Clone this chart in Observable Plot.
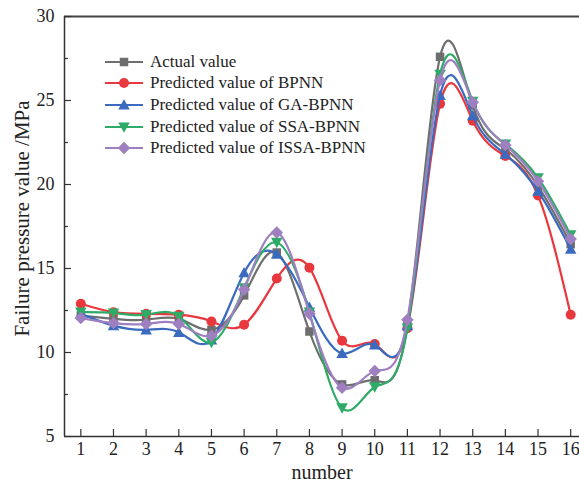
<!DOCTYPE html>
<html>
<head>
<meta charset="utf-8">
<script src="https://cdn.jsdelivr.net/npm/d3@7"></script>
<script src="https://cdn.jsdelivr.net/npm/@observablehq/plot@0.6"></script>
<style>
  html, body { margin: 0; padding: 0; background: #fff; }
  #wrap { position: relative; width: 579px; height: 485px; font-family: "Liberation Serif", "DejaVu Serif", serif; }
  #legend { position: absolute; left: 104px; top: 51px; font-size: 17px; color: #222; }
  .row { display: flex; align-items: center; height: 21.6px; }
  .row svg { margin-right: 4px; }
</style>
</head>
<body>
<div id="wrap"><div id="legend"></div></div>
<script>
const numbers = [1, 2, 3, 4, 5, 6, 7, 8, 9, 10, 11, 12, 13, 14, 15, 16];
const actual = [12.2, 12.0, 11.95, 12.0, 11.35, 13.4, 15.95, 11.25, 8.1, 8.35, 11.6, 27.6, 24.7, 22.1, 19.9, 16.45];
const bpnn   = [12.9, 12.4, 12.3, 12.25, 11.85, 11.65, 14.4, 15.05, 10.7, 10.5, 11.45, 24.8, 23.8, 21.7, 19.35, 12.25];
const gaBpnn = [12.3, 11.6, 11.35, 11.2, 10.75, 14.75, 15.85, 12.7, 9.95, 10.45, 11.6, 25.3, 24.1, 21.8, 19.6, 16.15];
const ssaBpnn = [12.4, 12.35, 12.25, 12.15, 10.6, 13.85, 16.55, 12.4, 6.7, 7.95, 11.45, 26.55, 24.95, 22.4, 20.4, 17.0];
const issaBpnn = [12.05, 11.75, 11.7, 11.7, 11.0, 13.75, 17.15, 12.3, 7.9, 8.9, 11.95, 26.2, 24.9, 22.35, 20.2, 16.75];
const seriesNames = ["Actual value", "Predicted value of BPNN", "Predicted value of GA-BPNN", "Predicted value of SSA-BPNN", "Predicted value of ISSA-BPNN"];
const seriesColors = ["#6e6e6e", "#e8383d", "#3a6bbf", "#2fab68", "#9e7fc0"];
const yTicks = [5, 10, 15, 20, 25, 30];
const yMinor = [7.5, 12.5, 17.5, 22.5, 27.5];

// custom symbols (size = r^2 * PI)
const rad = s => Math.sqrt(s / Math.PI);
const symSquare = { draw(c, s) { const h = rad(s) * 0.85; c.rect(-h, -h, 2 * h, 2 * h); } };
const symCircle = { draw(c, s) { const r = rad(s); c.moveTo(r, 0); c.arc(0, 0, r, 0, 2 * Math.PI); } };
const symTriUp = { draw(c, s) { const r = rad(s) * 1.15; c.moveTo(0, -r); c.lineTo(r, r * 0.8); c.lineTo(-r, r * 0.8); c.closePath(); } };
const symTriDown = { draw(c, s) { const r = rad(s) * 1.15; c.moveTo(0, r); c.lineTo(r, -r * 0.8); c.lineTo(-r, -r * 0.8); c.closePath(); } };
const symDiamond = { draw(c, s) { const r = rad(s) * 1.25; c.moveTo(0, -r); c.lineTo(r, 0); c.lineTo(0, r); c.lineTo(-r, 0); c.closePath(); } };
const symbols = [symSquare, symCircle, symTriUp, symTriDown, symDiamond];

const allSeries = [actual, bpnn, gaBpnn, ssaBpnn, issaBpnn];
const marks = [];
allSeries.forEach((vals, i) => {
  const data = numbers.map((n, j) => ({ n, v: vals[j] }));
  marks.push(Plot.line(data, { x: "n", y: "v", curve: "natural", stroke: seriesColors[i], strokeWidth: 2.2 }));
  marks.push(Plot.dot(data, { x: "n", y: "v", symbol: symbols[i], r: 5, fill: seriesColors[i], stroke: "none" }));
});

const W = 579, H = 485, mL = 64, mR = 0, mT = 16, mB = 49;
const pw = W - mL - mR, ph = H - mT - mB;

const chart = Plot.plot({
  width: W, height: H,
  marginLeft: mL, marginRight: mR, marginTop: mT, marginBottom: mB,
  style: { fontFamily: "Liberation Serif, serif", background: "transparent", color: "#222" },
  x: { domain: [0.5, 16.27], axis: null },
  y: { domain: [5, 30], axis: null },
  marks: [
    ...marks,
    // frame lines
    Plot.ruleY([5], { stroke: "#333", strokeWidth: 1.5 }),
    Plot.ruleY([30], { stroke: "#444", strokeWidth: 2 }),
    Plot.ruleX([0.5], { stroke: "#333", strokeWidth: 1.5 }),
    // inward ticks
    Plot.tickY(yTicks, { y: d => d, stroke: "#333", strokeWidth: 1.2, insetRight: pw - 7 }),
    Plot.tickY(yMinor, { y: d => d, stroke: "#333", strokeWidth: 1.2, insetRight: pw - 4 }),
    Plot.tickX(numbers, { x: d => d, stroke: "#333", strokeWidth: 1.2, insetTop: ph - 7 }),
    // tick labels
    Plot.axisY({ ticks: yTicks, tickSize: 0, tickPadding: 10, fontSize: 18, label: null }),
    Plot.axisX({ ticks: numbers, tickSize: 0, tickPadding: 6, fontSize: 18, label: null, tickFormat: d => String(d) }),
    // axis titles
    Plot.text(["number"], { frameAnchor: "bottom", dy: 36, lineAnchor: "middle", textAnchor: "middle", fontSize: 20, fill: "#222" }),
    Plot.text(["Failure pressure value /MPa"], { frameAnchor: "left", dx: -42, dy: -8, rotate: -90, textAnchor: "middle", lineAnchor: "middle", fontSize: 21, fill: "#222" })
  ]
});
const wrap = document.getElementById("wrap");
wrap.insertBefore(chart, wrap.firstChild);

// legend
const legend = d3.select("#legend");
seriesNames.forEach((name, i) => {
  const row = legend.append("div").attr("class", "row");
  const svg = row.append("svg").attr("width", 42).attr("height", 16);
  svg.append("line").attr("x1", 1).attr("x2", 39).attr("y1", 8).attr("y2", 8)
    .attr("stroke", seriesColors[i]).attr("stroke-width", 2.2);
  svg.append("path").attr("transform", "translate(20,8)")
    .attr("d", d3.symbol(symbols[i], 25 * Math.PI)()).attr("fill", seriesColors[i]);
  row.append("span").text(name);
});
</script>
</body>
</html>
